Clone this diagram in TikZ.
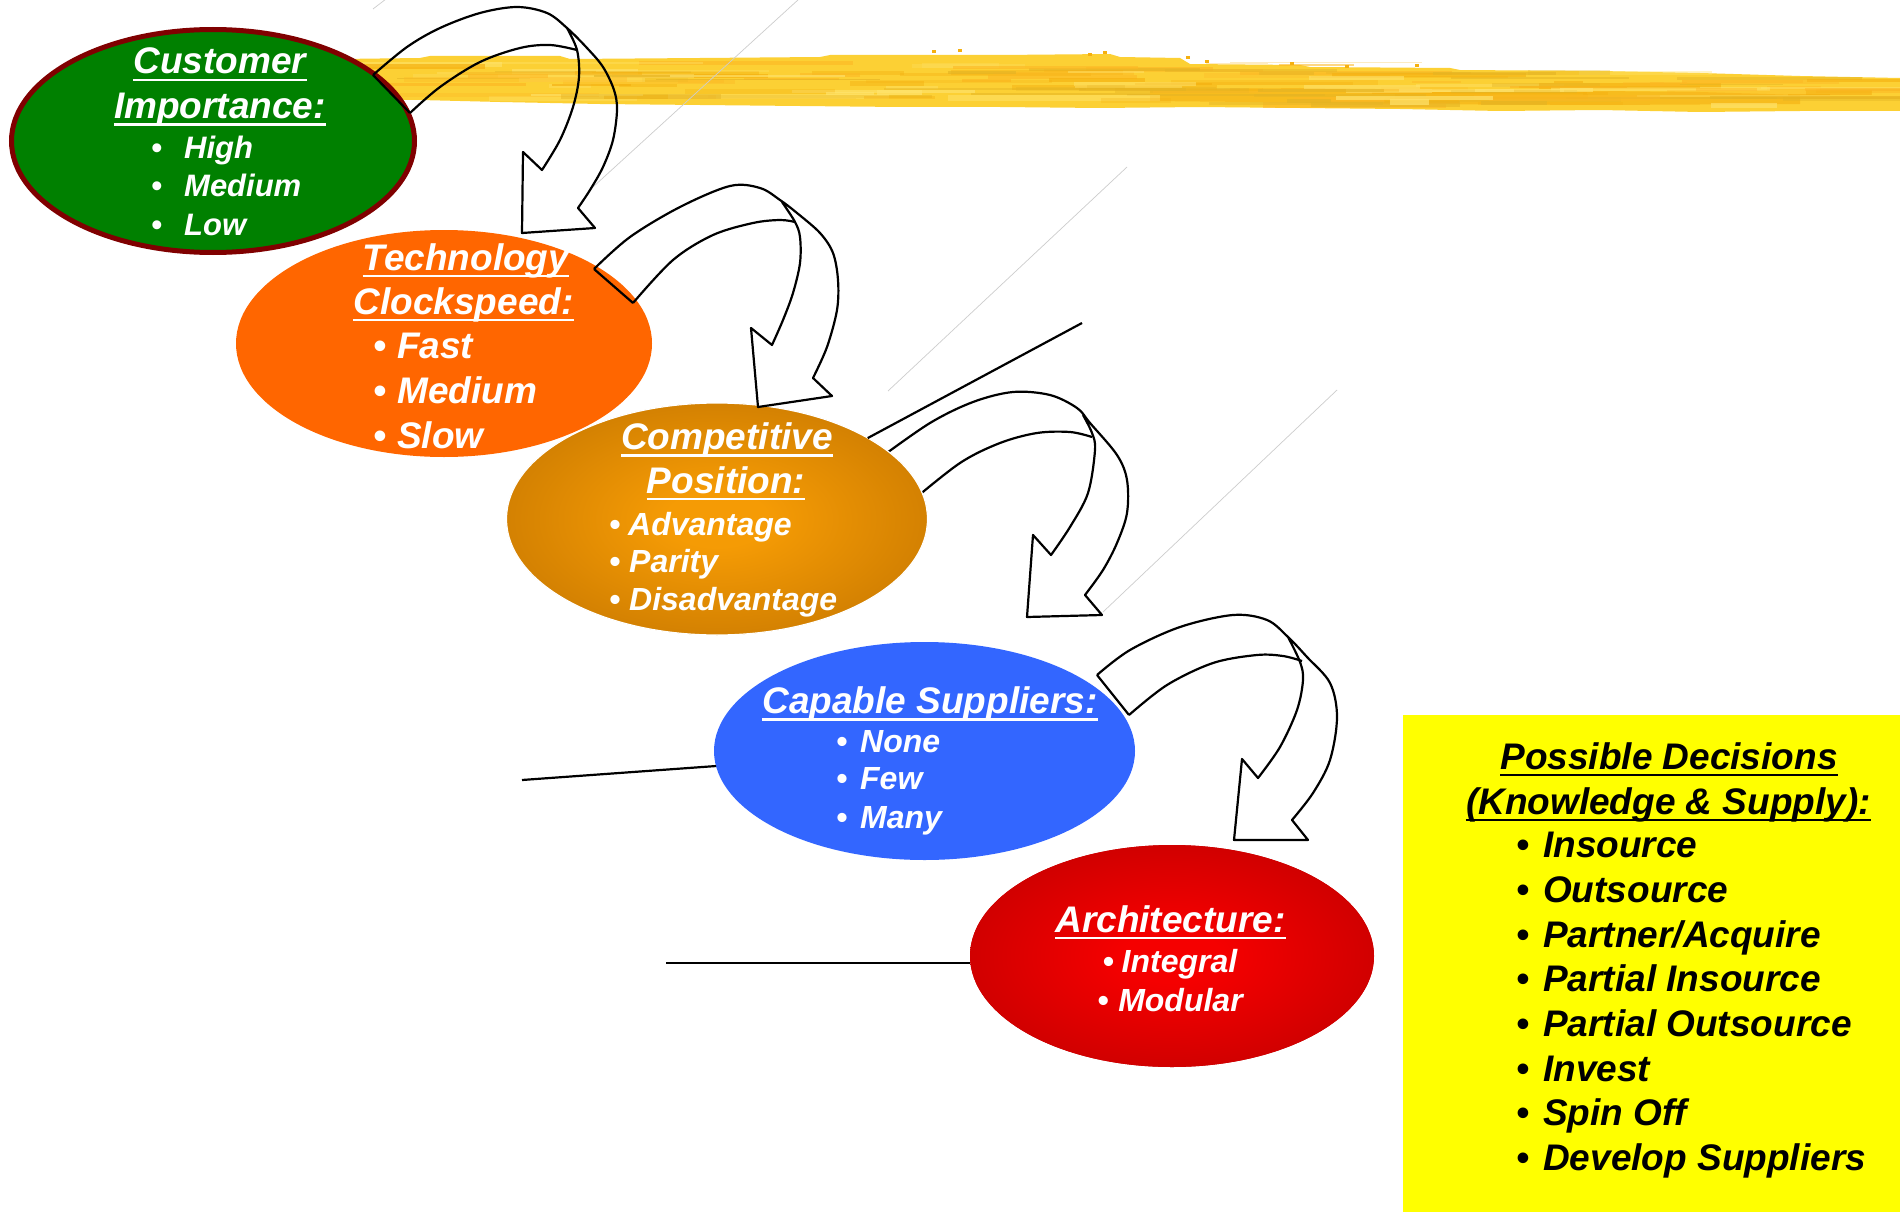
\documentclass[tikz,border=0pt]{standalone}
\usepackage{fontspec}
\setmainfont{Liberation Sans}
\usetikzlibrary{shapes.geometric}

\definecolor{custgreen}{RGB}{0,128,0}
\definecolor{custrim}{RGB}{128,0,0}
\definecolor{techorange}{RGB}{255,102,0}
\definecolor{compin}{RGB}{245,155,5}
\definecolor{compout}{RGB}{196,117,0}
\definecolor{suppblue}{RGB}{51,102,255}
\definecolor{archin}{RGB}{245,0,0}
\definecolor{archout}{RGB}{192,0,0}
\definecolor{decyellow}{RGB}{255,255,0}
\definecolor{brushbase}{RGB}{252,208,52}
\definecolor{brushdeep}{RGB}{245,176,16}
\definecolor{brushpale}{RGB}{255,228,110}
\definecolor{brushmust}{RGB}{228,180,36}
\definecolor{hairline}{RGB}{205,205,205}

\pgfdeclareradialshading{compshade}{\pgfpoint{0bp}{0bp}}{color(0bp)=(compin); color(6bp)=(compin); color(34bp)=(compout); color(50bp)=(compout)}
\pgfdeclareradialshading{archshade}{\pgfpoint{0bp}{0bp}}{color(0bp)=(archin); color(6bp)=(archin); color(34bp)=(archout); color(50bp)=(archout)}

\newcommand{\bulletbox}[1]{\makebox[#1][l]{•}}

\tikzset{
  ell/.style={shape=ellipse, inner sep=0pt, outer sep=0pt},
  hair/.style={draw=hairline, line width=0.7pt},
  bline/.style={draw=black, line width=2.2pt},
  bendarrow/.style={draw=black, line width=2.2pt, line join=round},
  smoothpts/.style={smooth, tension=0.55},
  ul/.style={append after command={
      ([yshift=-6pt]\tikzlastnode.base west) edge[draw=#1, line width=2.2pt]
      ([yshift=-6pt]\tikzlastnode.base east)}},
  headw/.style={anchor=base, inner sep=0pt, text=white, ul=white,
    font=\fontsize{37pt}{44pt}\selectfont\bfseries\itshape},
  headk/.style={anchor=base, inner sep=0pt, text=black, ul=black,
    font=\fontsize{37pt}{44pt}\selectfont\bfseries\itshape},
  itemw/.style={anchor=base west, inner sep=0pt, text=white,
    font=\fontsize{#1}{#1}\selectfont\bfseries\itshape},
  itemc/.style={itemw=#1, anchor=base},
  itemk/.style={itemw=#1, text=black},
}

\begin{document}
\begin{tikzpicture}[x=1pt, y=-1pt]
\useasboundingbox (0,0) rectangle (1900,1212);
\fill[white] (0,0) rectangle (1900,1212);

% ---- brush stroke across the top ----
\fill[brushbase]
  (340,59) -- (420,58) -- (430,56) -- (560,56) -- (570,59) -- (700,58) -- (820,57)
  -- (830,55) -- (1000,55) -- (1110,54) -- (1120,57) -- (1180,58) -- (1190,64)
  -- (1300,65) -- (1310,67) -- (1450,68) -- (1460,70) -- (1600,71) -- (1700,73)
  -- (1800,76) -- (1900,78)
  -- (1900,111) -- (1800,111) -- (1700,112) -- (1600,110) -- (1500,111) -- (1400,109)
  -- (1300,108) -- (1200,107) -- (1100,108) -- (1000,107) -- (900,107) -- (800,106)
  -- (700,105) -- (600,104) -- (500,102) -- (420,100) -- (340,99) -- cycle;
\fill[brushdeep, opacity=0.6]
  (1150,90) -- (1300,88) -- (1500,90) -- (1700,92) -- (1800,95) -- (1800,104)
  -- (1600,105) -- (1400,104) -- (1250,102) -- (1150,101) -- cycle;
\pgfmathsetseed{1234}
\foreach \k in {1,...,150}{
  \pgfmathsetmacro{\xs}{340+rnd*1500}
  \pgfmathsetmacro{\xe}{min(\xs+25+rnd*200,1900)}
  \pgfmathsetmacro{\tp}{58+max(0,\xs-1180)*0.027}
  \pgfmathsetmacro{\bt}{100+(\xs-360)*0.0075}
  \pgfmathsetmacro{\yy}{\tp+1+rnd*(\bt-\tp-5)}
  \pgfmathsetmacro{\hh}{1.5+rnd*4}
  \pgfmathsetmacro{\op}{0.25+rnd*0.45}
  \pgfmathtruncatemacro{\pick}{mod(\k,4)}
  \ifcase\pick \def\sc{brushdeep}\or \def\sc{brushpale}\or \def\sc{brushmust}\or \def\sc{brushbase!70!orange}\fi
  \fill[\sc, opacity=\op] (\xs,\yy) rectangle (\xe,\yy+\hh);
}
\foreach \px/\py in {932/50, 958/49, 1088/53, 1103/51, 1186/56, 1205/60, 1290/62, 1345/65, 1415/64}
  \fill[brushdeep] (\px,\py) rectangle ++(4,3);

% ---- thin grey guide lines ----
\coordinate (ga1) at (373,9);   \coordinate (gb1) at (386,-1);
\coordinate (ga2) at (593,187); \coordinate (gb2) at (799,-1);
\coordinate (ga3) at (888,391); \coordinate (gb3) at (1127,167);
\coordinate (ga4) at (1103,612);\coordinate (gb4) at (1337,390);
\draw[hair] (ga1) -- (gb1);
\draw[hair] (ga2) -- (gb2);
\draw[hair] (ga3) -- (gb3);
\draw[hair] (ga4) -- (gb4);

% ---- bent arrow from Competitive Position (base tucked under the ellipse) ----
\draw[bendarrow] (880,458) -- (912,501);
\draw[bendarrow] plot[smoothpts] coordinates {(880,458) (930,423) (973,402) (1013,392) (1050,395) (1077,408) (1090,423) (1117,455) (1127,480) (1127,513) (1117,543) (1103,570) (1085,595)}
  -- (1102,615) -- (1027,617) -- (1033,535) -- (1051,555)
  -- plot[smoothpts] coordinates {(1051,555) (1070,527) (1088,493) (1095,450) (1092,433) (1083,415)};
\draw[bendarrow] plot[smoothpts] coordinates {(912,501) (960,463) (1000,443) (1037,433) (1070,432) (1092,437)};

% ---- the five factor ellipses ----
\node[ell, fill=custgreen, draw=custrim, line width=5pt, minimum width=403pt, minimum height=223pt] (cust) at (213,141) {};
\node[ell, fill=techorange, minimum width=416pt, minimum height=227pt] (tech) at (444,343.5) {};
\node[ell, fill=compout, shade, shading=compshade, draw=white, line width=1.2pt, minimum width=421pt, minimum height=232pt] (comp) at (717,519) {};
\node[ell, fill=suppblue, minimum width=421pt, minimum height=218pt] (supp) at (924.5,751) {};
\node[ell, fill=archout, shade, shading=archshade, minimum width=404pt, minimum height=222pt] (arch) at (1172,956) {};

% ---- straight connectors ----
\coordinate (l1) at (1082,323);
\coordinate (l2) at (522,780);
\coordinate (l3) at (666,963);
\draw[bline] (comp) -- (l1);
\draw[bline] (l2) -- (supp);
\draw[bline] (l3) -- (l3 -| arch.west);

% ---- bent arrows ----
\draw[bendarrow] (373,75) -- (410,113);
\draw[bendarrow] plot[smoothpts] coordinates {(373,75) (407,47) (440,28) (480,13) (517,7) (547,13) (567,28) (587,48) (603,67) (614,90) (617,110) (613,140) (603,167) (590,190) (578,208)}
  -- (595,228) -- (522,233) -- (523,152) -- (542,170)
  -- plot[smoothpts] coordinates {(542,170) (560,140) (573,107) (579,77) (577,50) (567,28)};
\draw[bendarrow] plot[smoothpts] coordinates {(410,113) (440,87) (480,62) (520,48) (550,45) (577,50)};

\draw[bendarrow] (594,269) -- (633,303);
\draw[bendarrow] plot[smoothpts] coordinates {(594,269) (630,237) (680,207) (730,186) (760,188) (780,200) (797,213) (820,233) (833,253) (838,280) (837,310) (827,347) (813,378)}
  -- (832,396) -- (758,407) -- (751,328) -- (772,345)
  -- plot[smoothpts] coordinates {(772,345) (783,320) (793,293) (800,263) (800,237) (795,222) (782,202)};
\draw[bendarrow] plot[smoothpts] coordinates {(633,303) (673,260) (713,235) (753,223) (780,220) (795,222)};

\draw[bendarrow] (1097,675) -- (1129,715);
\draw[bendarrow] plot[smoothpts] coordinates {(1097,675) (1130,650) (1180,627) (1233,615) (1267,620) (1288,637) (1307,657) (1330,683) (1337,717) (1330,760) (1313,793) (1292,820)}
  -- (1308,840) -- (1234,840) -- (1242,759) -- (1258,778)
  -- plot[smoothpts] coordinates {(1258,778) (1280,747) (1297,710) (1303,680) (1300,662) (1288,637)};
\draw[bendarrow] plot[smoothpts] coordinates {(1129,715) (1167,685) (1213,663) (1257,655) (1283,656) (1302,661)};

% ---- decisions panel ----
\node[fill=decyellow, inner sep=0pt, minimum width=497pt, minimum height=497pt, anchor=north west] (dec) at (1403,715) {};

% ---- texts: Customer Importance ----
\node[headw] (cust1) at (220,74) {Customer};
\node[headw] (cust2) at (220,118.5) {Importance:};
\node[itemw=31pt] (cust3) at (151,158) {\bulletbox{33pt}High};
\node[itemw=31pt] (cust4) at (151,196.5) {\bulletbox{33pt}Medium};
\node[itemw=31pt] (cust5) at (151,235) {\bulletbox{33pt}Low};

% ---- Technology Clockspeed ----
\node[headw] (tech1) at (466,270) {Technology};
\node[headw] (tech2) at (463.5,314) {Clockspeed:};
\node[itemw=37pt] (tech3) at (373,358.5) {\bulletbox{24pt}Fast};
\node[itemw=37pt] (tech4) at (373,403) {\bulletbox{24pt}Medium};
\node[itemw=37pt] (tech5) at (373,448) {\bulletbox{24pt}Slow};

% ---- Competitive Position ----
\node[headw] (comp1) at (727,449.5) {Competitive};
\node[headw] (comp2) at (726,493) {Position:};
\node[itemw=32pt] (comp3) at (609,535) {\bulletbox{19pt}Advantage};
\node[itemw=32pt] (comp4) at (609,572.5) {\bulletbox{20pt}Parity};
\node[itemw=32pt] (comp5) at (609,610) {\bulletbox{20pt}Disadvantage};

% ---- Capable Suppliers ----
\node[headw] (supp1) at (930,713.5) {Capable Suppliers:};
\node[itemw=32pt] (supp2) at (836,752) {\bulletbox{24pt}None};
\node[itemw=32pt] (supp3) at (836,789) {\bulletbox{24pt}Few};
\node[itemw=32pt] (supp4) at (836,828) {\bulletbox{24pt}Many};

% ---- Architecture ----
\node[headw] (arch1) at (1170.5,932) {Architecture:};
\node[itemc=32pt] (arch2) at (1170,972.5) {\bulletbox{19pt}Integral};
\node[itemc=32pt] (arch3) at (1170,1011) {\bulletbox{21pt}Modular};

% ---- Possible Decisions ----
\node[headk] (dec1) at (1669,769) {Possible Decisions};
\node[headk] (dec2) at (1668.5,814) {(Knowledge \& Supply):};
\foreach \t [count=\i] in {Insource, Outsource, Partner/Acquire, Partial Insource, Partial Outsource, Invest, Spin Off, Develop Suppliers}{
  \pgfmathsetmacro{\yb}{857.7+(\i-1)*44.67}
  \node[itemk=37pt] (decitem\i) at (1516,\yb) {\bulletbox{27pt}\t};
}
\end{tikzpicture}
\end{document}
